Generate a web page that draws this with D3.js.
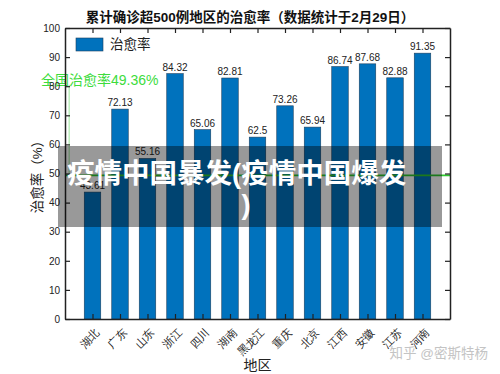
<!DOCTYPE html>
<html>
<head>
<meta charset="utf-8">
<script src="https://cdn.jsdelivr.net/npm/d3@7"></script>
<style>
  body { margin: 0; background: #fff; }
  svg { display: block; font-family: "Liberation Sans", "Noto Sans CJK SC", sans-serif; }
</style>
</head>
<body>
<script>
  const regions = ['湖北', '广东', '山东', '浙江', '四川', '湖南', '黑龙江', '重庆', '北京', '江西', '安徽', '江苏', '河南'];
  const cureRates = [43.61, 72.13, 55.16, 84.32, 65.06, 82.81, 62.5, 73.26, 65.94, 86.74, 87.68, 82.88, 91.35];
  const nationalRate = 49.36;
  const yTicks = [0, 10, 20, 30, 40, 50, 60, 70, 80, 90, 100];

  const width = 500;
  const height = 374;
  const margin = { left: 65, right: 50, top: 28, bottom: 55 };
  const plotW = width - margin.left - margin.right;
  const plotH = height - margin.top - margin.bottom;

  const svg = d3.select('body').append('svg')
    .attr('width', width)
    .attr('height', height);

  const g = svg.append('g')
    .attr('transform', `translate(${margin.left},${margin.top})`);

  // matlab style: bars at 1..n, xlim [0, n+1]
  const x = d3.scaleLinear()
    .domain([0, regions.length + 1])
    .range([0, plotW]);

  const y = d3.scaleLinear()
    .domain([0, 100])
    .range([plotH, 0]);

  const barW = (x(1) - x(0)) * 0.6;

  g.selectAll('rect.bar')
    .data(cureRates)
    .enter()
    .append('rect')
    .attr('class', 'bar')
    .attr('x', (d, i) => x(i + 1) - barW / 2)
    .attr('y', d => y(d))
    .attr('width', barW)
    .attr('height', d => plotH - y(d))
    .attr('fill', '#0072bd')
    .attr('stroke', '#1c3f5e')
    .attr('stroke-width', 0.6);

  g.selectAll('text.val')
    .data(cureRates)
    .enter()
    .append('text')
    .attr('class', 'val')
    .attr('x', (d, i) => x(i + 1))
    .attr('y', d => y(d) - 3)
    .attr('text-anchor', 'middle')
    .attr('font-size', 10)
    .attr('fill', '#222')
    .text(d => d);

  // national cure rate line + annotation
  g.append('line')
    .attr('x1', 0)
    .attr('x2', plotW)
    .attr('y1', y(nationalRate))
    .attr('y2', y(nationalRate))
    .attr('stroke', '#2fc82f')
    .attr('stroke-width', 1.6);

  g.append('line')
    .attr('x1', x(0.15))
    .attr('x2', x(0.15))
    .attr('y1', y(80.5))
    .attr('y2', y(nationalRate))
    .attr('stroke', '#9be69b')
    .attr('stroke-width', 1);

  g.append('text')
    .attr('x', -24)
    .attr('y', y(80.4))
    .attr('font-size', 14)
    .attr('fill', '#3ddc3d')
    .text('全国治愈率' + nationalRate + '%');

  // axes (box on, ticks inward)
  const axisBottom = d3.axisBottom(x)
    .tickValues(d3.range(1, regions.length + 1))
    .tickFormat(d => regions[d - 1])
    .tickSizeInner(-5).tickSizeOuter(0);
  const axisTop = d3.axisTop(x)
    .tickValues(d3.range(1, regions.length + 1))
    .tickFormat('')
    .tickSizeInner(-5).tickSizeOuter(0);
  const axisLeft = d3.axisLeft(y)
    .tickValues(yTicks)
    .tickSizeInner(-5).tickSizeOuter(0)
    .tickPadding(5);
  const axisRight = d3.axisRight(y)
    .tickValues(yTicks)
    .tickFormat('')
    .tickSizeInner(-5).tickSizeOuter(0);

  const gx = g.append('g')
    .attr('transform', `translate(0,${plotH})`)
    .call(axisBottom);
  gx.selectAll('text')
    .attr('font-size', 11)
    .attr('fill', '#222')
    .attr('text-anchor', 'end')
    .attr('dy', 0)
    .attr('transform', 'translate(5,12) rotate(-45)');

  g.append('g').call(axisTop);

  const gy = g.append('g').call(axisLeft);
  gy.selectAll('text').attr('font-size', 10).attr('fill', '#222');

  g.append('g')
    .attr('transform', `translate(${plotW},0)`)
    .call(axisRight);

  g.selectAll('.domain').attr('stroke', '#222').attr('stroke-width', 1.5);
  g.selectAll('.tick line').attr('stroke', '#222').attr('stroke-width', 1.2);

  // legend
  g.append('rect')
    .attr('x', 11).attr('y', 10)
    .attr('width', 27).attr('height', 13)
    .attr('fill', '#0072bd')
    .attr('stroke', '#1c3f5e').attr('stroke-width', 0.6);
  g.append('text')
    .attr('x', 45).attr('y', 21)
    .attr('font-size', 13.5)
    .attr('fill', '#222')
    .text('治愈率');

  // titles
  svg.append('text')
    .attr('x', 250)
    .attr('y', 22)
    .attr('text-anchor', 'middle')
    .attr('font-size', 13.5)
    .attr('font-weight', 'bold')
    .attr('fill', '#111')
    .text('累计确诊超500例地区的治愈率（数据统计于2月29日）');

  svg.append('text')
    .attr('x', margin.left + plotW / 2)
    .attr('y', 370)
    .attr('text-anchor', 'middle')
    .attr('font-size', 14)
    .attr('fill', '#222')
    .text('地区');

  svg.append('text')
    .attr('transform', `translate(42,${margin.top + plotH / 2}) rotate(-90)`)
    .attr('text-anchor', 'middle')
    .attr('font-size', 13.5)
    .attr('fill', '#222')
    .text('治愈率（%）');

  // watermark
  svg.append('text')
    .attr('x', 488)
    .attr('y', 358)
    .attr('text-anchor', 'end')
    .attr('font-size', 13.5)
    .attr('fill', '#c4c4c4')
    .text('知乎 @密斯特杨');

  // overlay banner
  svg.append('rect')
    .attr('x', 58).attr('y', 146)
    .attr('width', 384).attr('height', 81)
    .attr('fill', '#000')
    .attr('fill-opacity', 0.4);
  svg.append('text')
    .attr('x', 67).attr('y', 183)
    .attr('font-size', 27.5)
    .attr('font-weight', 'bold')
    .attr('fill', '#fff')
    .text('疫情中国暴发(疫情中国爆发');
  svg.append('text')
    .attr('x', 246).attr('y', 214)
    .attr('text-anchor', 'middle')
    .attr('font-size', 27.5)
    .attr('font-weight', 'bold')
    .attr('fill', '#fff')
    .text(')');
</script>
</body>
</html>
